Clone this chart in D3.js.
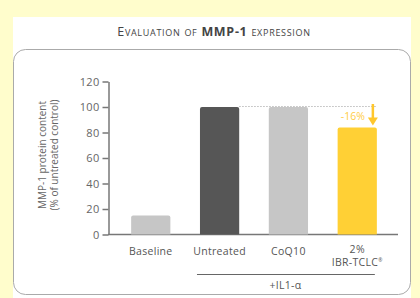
<!DOCTYPE html>
<html>
<head>
<meta charset="utf-8">
<script src="https://cdn.jsdelivr.net/npm/d3@7"></script>
<style>
  body { margin: 0; background: #fffdcc; }
  svg { display: block; }
  text { font-family: "Open Sans", sans-serif; }
</style>
</head>
<body>
<svg></svg>
<script>
// chart data
let categories = ['Baseline', 'Untreated', 'CoQ10', '2%|IBR-TCLC'],
    values     = [15, 100, 100, 84],
    colors     = ['#c6c6c6', '#565656', '#c6c6c6', '#ffd035'],
    yTicks     = [0, 20, 40, 60, 80, 100, 120];

let width  = 420,
    height = 298;

let svg = d3.select('svg')
            .attr('width', width)
            .attr('height', height);

// white card + rounded box
svg.append('rect')
    .attr('x', 13).attr('y', 17)
    .attr('width', 398).attr('height', 290)
    .attr('fill', '#fff');

svg.append('rect')
    .attr('x', 13.5).attr('y', 49.5)
    .attr('width', 397).attr('height', 245)
    .attr('rx', 12)
    .attr('fill', '#fff')
    .attr('stroke', '#aaa');

// title
let title = svg.append('text')
    .attr('x', 214).attr('y', 36)
    .attr('text-anchor', 'middle')
    .attr('font-size', 12.5)
    .attr('letter-spacing', 0.7)
    .attr('fill', '#444')
    .style('font-variant', 'small-caps');
title.append('tspan').text('Evaluation of ');
title.append('tspan').attr('font-weight', 'bold').text('MMP-1');
title.append('tspan').text(' expression');

let xScale = d3.scaleBand()
                .domain(categories)
                .range([116, 392])
                .paddingInner(0.43)
                .paddingOuter(0.22);

let yScale = d3.scaleLinear()
                .domain([0, 120])
                .range([234.5, 81.5]);

let yAxis = d3.axisLeft(yScale)
                .tickValues(yTicks)
                .tickSize(6)
                .tickSizeOuter(0);

let gy = svg.append('g')
    .attr('transform', 'translate(108.5,0)')
    .call(yAxis);
gy.select('.domain').attr('stroke', '#777').attr('stroke-width', 1.5);
gy.selectAll('.tick line').attr('stroke', '#777').attr('stroke-width', 1.5);
gy.selectAll('.tick text')
    .attr('fill', '#666')
    .attr('font-size', 11)
    .attr('letter-spacing', 0.3)
    .attr('x', -9);

// x axis line
svg.append('line')
    .attr('x1', 108).attr('x2', 398)
    .attr('y1', yScale(0)).attr('y2', yScale(0))
    .attr('stroke', '#777').attr('stroke-width', 1.5);

// dotted reference line
svg.append('line')
    .attr('x1', xScale(categories[1]) + xScale.bandwidth())
    .attr('x2', xScale(categories[3]) + xScale.bandwidth())
    .attr('y1', yScale(100) - 0.5).attr('y2', yScale(100) - 0.5)
    .attr('stroke', '#aaa')
    .attr('stroke-dasharray', '1.5,1.5')
    .attr('stroke-width', 0.8);

// bars with rounded tops
function barPath(x, y, w, h, r) {
    return `M${x},${y + h}V${y + r}Q${x},${y} ${x + r},${y}H${x + w - r}Q${x + w},${y} ${x + w},${y + r}V${y + h}Z`;
}

svg.selectAll('path.bar')
    .data(categories)
    .enter()
    .append('path')
        .attr('class', 'bar')
        .attr('d', (d, i) => barPath(xScale(d), yScale(values[i]), xScale.bandwidth(),
                                     yScale(0) - yScale(values[i]), 2))
        .attr('fill', (d, i) => colors[i]);

// arrow -16%
let ax = xScale(categories[3]) + xScale.bandwidth() - 4;
svg.append('line')
    .attr('x1', ax).attr('x2', ax)
    .attr('y1', yScale(100) - 3).attr('y2', yScale(values[3]) - 8)
    .attr('stroke', '#ffc72c').attr('stroke-width', 2.5);
svg.append('path')
    .attr('d', `M${ax - 5},${yScale(values[3]) - 10}L${ax + 5},${yScale(values[3]) - 10}L${ax},${yScale(values[3]) - 2}Z`)
    .attr('fill', '#ffc72c');
svg.append('text')
    .attr('x', ax - 8).attr('y', 120)
    .attr('text-anchor', 'end')
    .attr('font-size', 10.5)
    .attr('fill', '#ffcd45')
    .text('-' + (values[1] - values[3]) + '%');

// category labels
svg.selectAll('text.cat')
    .data(categories)
    .enter()
    .append('text')
        .attr('class', 'cat')
        .attr('x', d => xScale(d) + xScale.bandwidth() / 2)
        .attr('y', d => d.includes('|') ? 253 : 255)
        .attr('text-anchor', 'middle')
        .attr('font-size', 10.5)
        .attr('letter-spacing', 0.3)
        .attr('fill', '#555')
        .each(function(d) {
            let parts = d.split('|');
            let t = d3.select(this);
            parts.forEach((p, j) => {
                let ts = t.append('tspan')
                    .attr('x', xScale(d) + xScale.bandwidth() / 2)
                    .attr('dy', j === 0 ? 0 : 12.5)
                    .text(p);
                if (j === 1) ts.append('tspan')
                    .attr('font-size', 5)
                    .attr('dy', -4)
                    .text('®');
            });
        });

// +IL1-α bracket
svg.append('line')
    .attr('x1', xScale(categories[1]) - 3)
    .attr('x2', xScale(categories[3]) + xScale.bandwidth() - 2)
    .attr('y1', 274.5).attr('y2', 274.5)
    .attr('stroke', '#666').attr('stroke-width', 1);
svg.append('text')
    .attr('x', xScale(categories[2]) + xScale.bandwidth() / 2 - 3)
    .attr('y', 289)
    .attr('text-anchor', 'middle')
    .attr('font-size', 10.5)
    .attr('letter-spacing', 0.3)
    .attr('fill', '#555')
    .text('+IL1-α');

// y label
let yl = svg.append('text')
    .attr('transform', 'translate(0,155) rotate(-90)')
    .attr('text-anchor', 'middle')
    .attr('font-size', 10)
    .attr('fill', '#666');
yl.append('tspan').attr('x', 0).attr('y', 46).text('MMP-1 protein content');
yl.append('tspan').attr('x', 0).attr('y', 58).text('(% of untreated control)');
</script>
</body>
</html>
